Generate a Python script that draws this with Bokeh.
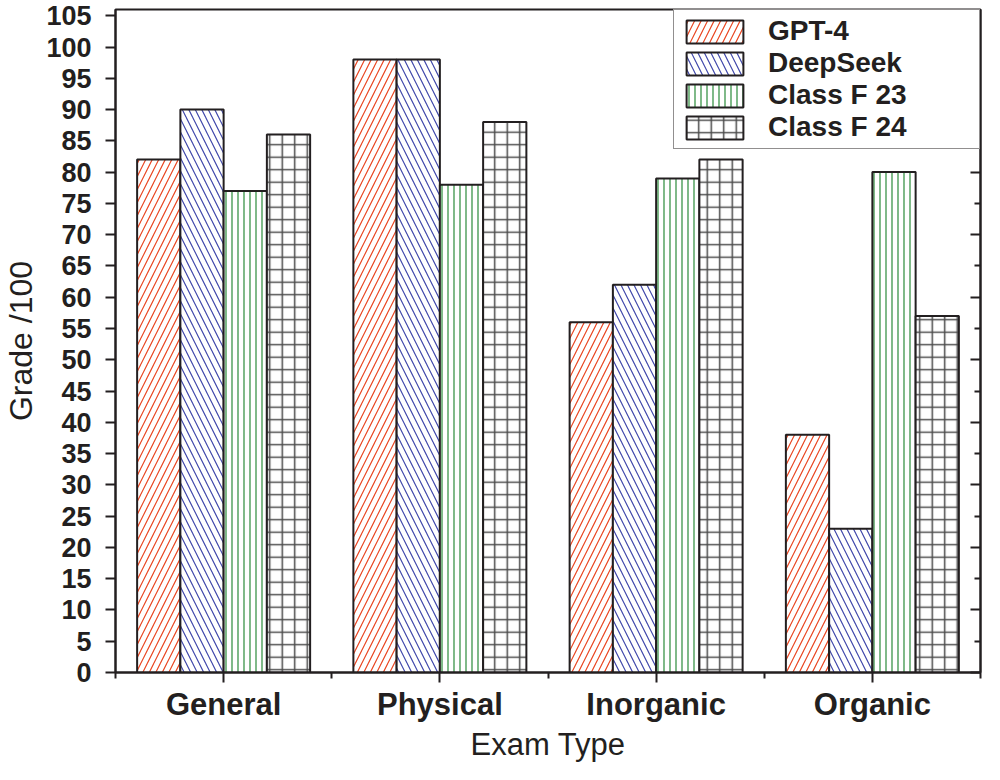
import numpy as np
from bokeh.plotting import figure
from bokeh.models import (FixedTicker, LinearAxis, Range1d, Legend, LegendItem,
                          CustomLabelingPolicy)
from bokeh.embed import file_html
from bokeh.resources import INLINE

categories = ["General", "Physical", "Inorganic", "Organic"]
series_names = ["GPT-4", "DeepSeek", "Class F 23", "Class F 24"]
gpt4 = [82, 98, 56, 38]
deepseek = [90, 98, 62, 23]
class_f23 = [77, 78, 79, 80]
class_f24 = [86, 88, 82, 57]
y_ticks = list(range(0, 106, 5))

FONT = "Liberation Sans"
INK = "#231f20"

p = figure(width=984, height=764, x_range=Range1d(0.5, 4.5), y_range=Range1d(0, 106),
           output_backend="svg", toolbar_location=None,
           min_border_left=113, min_border_right=4, min_border_top=9, min_border_bottom=88)
p.xgrid.visible = False
p.ygrid.visible = False
p.outline_line_color = INK
p.outline_line_width = 2
p.background_fill_color = "white"

centers = np.arange(1, len(categories) + 1)
bar_w = 0.2
offsets = [-0.3, -0.1, 0.1, 0.3]
series = [gpt4, deepseek, class_f23, class_f24]
styles = [
    dict(hatch_pattern="/", hatch_color="#e9441f", hatch_scale=13, hatch_weight=1.2),
    dict(hatch_pattern="\\", hatch_color="#3f47aa", hatch_scale=13, hatch_weight=1.2),
    dict(hatch_pattern="|", hatch_color="#3a9448", hatch_scale=6, hatch_weight=1.3),
    dict(hatch_pattern="+", hatch_color="#4a4a4a", hatch_scale=12.5, hatch_weight=1.5),
]
items = []
for name, vals, off, st in zip(series_names, series, offsets, styles):
    r = p.vbar(x=centers + off, top=vals, width=bar_w, bottom=0,
               fill_color="white", line_color=INK, line_width=2, **st)
    items.append(LegendItem(label=name, renderers=[r]))

legend = Legend(items=items, location="top_right", margin=0, padding=5, spacing=0,
                glyph_width=71, glyph_height=29, label_height=28, label_width=206,
                label_standoff=18, label_text_font=FONT, label_text_font_style="bold",
                label_text_font_size="28px", label_text_color=INK,
                border_line_color=INK, border_line_width=1.5, background_fill_alpha=1)
p.add_layout(legend)

# x axis
xa = p.xaxis[0]
xa.ticker = FixedTicker(ticks=list(centers), minor_ticks=list(np.arange(0.5, len(categories) + 1, 1.0)))
xa.major_label_overrides = {int(c): cat for c, cat in zip(centers, categories)}
xa.major_tick_out = 10
xa.major_tick_in = 0
xa.minor_tick_out = 6
xa.minor_tick_in = 0
xa.axis_line_width = 2
xa.major_tick_line_width = 2
xa.minor_tick_line_width = 2
xa.major_label_standoff = 4
xa.major_label_text_font = FONT
xa.major_label_text_font_style = "bold"
xa.major_label_text_font_size = "31px"
xa.major_label_text_color = INK
xa.axis_label = "Exam Type"
xa.axis_label_text_font = FONT
xa.axis_label_text_font_style = "normal"
xa.axis_label_text_font_size = "31px"
xa.axis_label_text_color = INK
xa.axis_label_standoff = 2
xa.axis_line_color = INK
xa.major_tick_line_color = INK
xa.minor_tick_line_color = INK

# y axis
ya = p.yaxis[0]
ya.ticker = FixedTicker(ticks=y_ticks, minor_ticks=[])
ya.major_tick_out = 10
ya.major_tick_in = 0
ya.axis_line_width = 2
ya.major_tick_line_width = 2
ya.major_label_standoff = 14
ya.major_label_text_font = FONT
ya.major_label_text_font_style = "bold"
ya.major_label_text_font_size = "27px"
ya.major_label_text_color = INK
ya.axis_label = "Grade /100"
ya.axis_label_text_font = FONT
ya.axis_label_text_font_style = "normal"
ya.axis_label_text_font_size = "32px"
ya.axis_label_text_color = INK
ya.axis_label_standoff = 4
ya.axis_line_color = INK
ya.major_tick_line_color = INK

# right axis: inward ticks, no labels
ra = LinearAxis(ticker=FixedTicker(ticks=y_ticks[::2], minor_ticks=y_ticks[1::2]),
                major_tick_in=10, major_tick_out=0, minor_tick_in=6, minor_tick_out=0,
                major_label_text_font_size="0px", major_label_standoff=0,
                major_label_policy=CustomLabelingPolicy(code="return []"),
                axis_line_width=2, major_tick_line_width=2, minor_tick_line_width=2,
                axis_line_color=INK, major_tick_line_color=INK, minor_tick_line_color=INK)
p.add_layout(ra, "right")

open("out.html", "w").write(file_html(p, INLINE))
